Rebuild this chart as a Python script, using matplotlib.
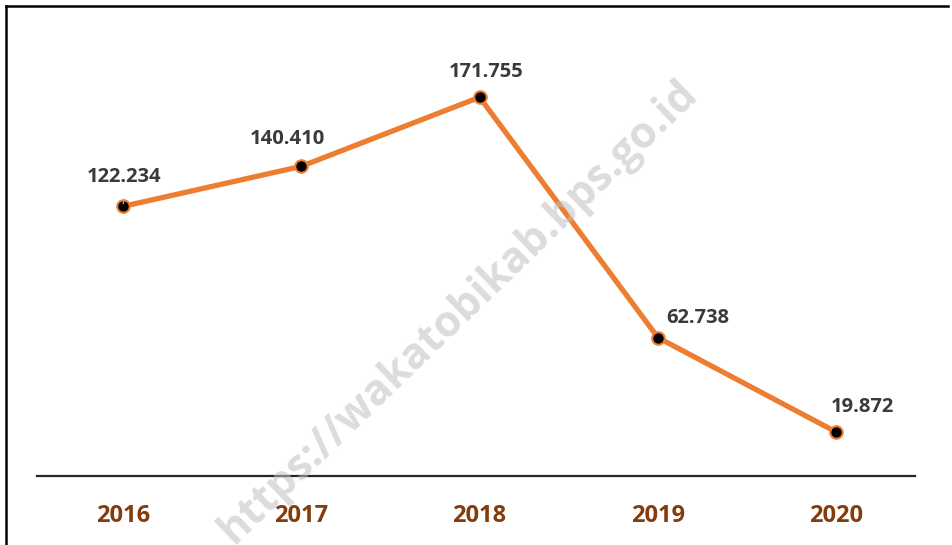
import matplotlib.pyplot as plt
from matplotlib.lines import Line2D

years = ['2016', '2017', '2018', '2019', '2020']
values = [122.234, 140.410, 171.755, 62.738, 19.872]
labels = ['122.234', '140.410', '171.755', '62.738', '19.872']
# label offsets in points (dx, dy)
offsets = [(1, 21), (-10, 20), (5, 18), (29, 14), (19, 18)]

fig = plt.figure(figsize=(9.52, 5.45), dpi=100)
ax = fig.add_axes([37 / 952, 69 / 545, (915 - 37) / 952, (476 - 35) / 545])

x = list(range(len(years)))
ax.plot(x, values, color='#ED7D31', lw=3.8, zorder=2, solid_capstyle='round')
ax.plot(x, values, 'o', ms=9, mfc='black', mec='#ED7D31', mew=1.5, zorder=3)

for i, (v, lab) in enumerate(zip(values, labels)):
    dx, dy = offsets[i]
    ax.annotate(lab, (i, v), xytext=(dx, dy), textcoords='offset points',
                ha='center', va='center', fontsize=14.5, fontweight='bold',
                color='#3a3a3a', family='Open Sans')

# small leader line for first label
ax.annotate('', (0, values[0]), xytext=(0.01, values[0] + 4.5),
            arrowprops=dict(arrowstyle='-', color='#a6a6a6', lw=1))

ax.set_xlim(-0.48, 4.44)
ax.set_ylim(0, 200)
ax.set_xticks(x)
ax.set_xticklabels(years, fontsize=17, fontweight='bold', color='#843C0C', family='Open Sans')
ax.tick_params(axis='x', length=0, pad=20)
ax.set_yticks([])
for s in ['left', 'right', 'top']:
    ax.spines[s].set_visible(False)
ax.spines['bottom'].set_linewidth(1.6)
ax.spines['bottom'].set_color('#262626')

# outer border (left and top)
fig.add_artist(Line2D([5.5 / 952, 5.5 / 952], [0, 1 - 6 / 545], color='black', lw=1.8,
                      transform=fig.transFigure))
fig.add_artist(Line2D([5.5 / 952, 948 / 952], [1 - 6 / 545, 1 - 6 / 545], color='black', lw=1.8,
                      transform=fig.transFigure))

# watermark
fig.text(458 / 952, 1 - 312 / 545, 'https://wakatobikab.bps.go.id', rotation=44,
         ha='center', va='center', fontsize=31, fontweight='bold', color='#c0c0c0',
         alpha=0.55, family='Open Sans', zorder=10)

fig.savefig('out.png', dpi=100)
